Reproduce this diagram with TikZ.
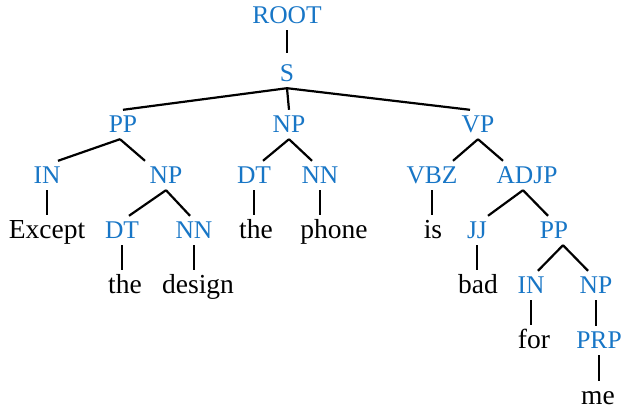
\documentclass[tikz,border=0pt]{standalone}
\usepackage{fontspec}
\setmainfont{Liberation Serif}
\newfontfamily\treefont{Liberation Serif}
\definecolor{tagblue}{RGB}{24,118,198}
\begin{document}
\begin{tikzpicture}[x=1pt,y=-1pt,
  tag/.style={font=\treefont\fontsize{25.5}{28}\selectfont, text=tagblue, anchor=base,
    text height=17pt, text depth=0pt, inner xsep=1pt, inner ysep=6pt},
  word/.style={font=\treefont\fontsize{27.5}{30}\selectfont, text=black, anchor=base,
    text height=19pt, text depth=6pt, inner xsep=1pt, inner ysep=5pt},
  branch/.style={line width=2.2pt, black}]
\useasboundingbox (0,0) rectangle (625,411);

% phrase and part-of-speech tags
\node[tag] (root) at (287,24)  {ROOT};
\node[tag] (s)    at (287,82)  {S};
\node[tag] (pp1)  at (123,133) {PP};
\node[tag] (np1)  at (289,133) {NP};
\node[tag] (vp)   at (478,133) {VP};
\node[tag] (in1)  at (47,184)  {IN};
\node[tag] (np2)  at (166,184) {NP};
\node[tag] (dt1)  at (254,184) {DT};
\node[tag] (nn1)  at (320,184) {NN};
\node[tag] (vbz)  at (432,184) {VBZ};
\node[tag] (adjp) at (527,184) {ADJP};
\node[tag] (dt2)  at (122,239) {DT};
\node[tag] (nn2)  at (194,239) {NN};
\node[tag] (jj)   at (477,239) {JJ};
\node[tag] (pp2)  at (554,239) {PP};
\node[tag] (in2)  at (531,294) {IN};
\node[tag] (np3)  at (596,294) {NP};
\node[tag] (prp)  at (599,349) {PRP};

% the words
\node[word] (w1) at (47,239)  {Except};
\node[word] (w2) at (256,239) {the};
\node[word] (w3) at (334,239) {phone};
\node[word] (w4) at (433,239) {is};
\node[word] (w5) at (125,294) {the};
\node[word] (w6) at (198,294) {design};
\node[word] (w7) at (478,294) {bad};
\node[word] (w8) at (534,349) {for};
\node[word] (w9) at (598,405) {me};

% branching edges
\draw[branch] (s.south) -- (pp1.north);
\draw[branch] (s.south) -- (np1.north);
\draw[branch] (s.south) -- ([xshift=-8pt]vp.north);
\draw[branch] ([xshift=-3pt]pp1.south) -- ([xshift=11pt]in1.north);
\draw[branch] ([xshift=-3pt]pp1.south) -- ([xshift=-21pt]np2.north);
\draw[branch] (np1.south) -- ([xshift=9pt]dt1.north);
\draw[branch] (np1.south) -- ([xshift=-8pt]nn1.north);
\draw[branch] (vp.south) -- ([xshift=21pt]vbz.north);
\draw[branch] (vp.south) -- ([xshift=-24pt]adjp.north);
\draw[branch] (np2.south) -- ([xshift=7pt]dt2.north);
\draw[branch] (np2.south) -- ([xshift=-4pt]nn2.north);
\draw[branch] ([xshift=-4pt]adjp.south) -- ([xshift=11pt]jj.north);
\draw[branch] ([xshift=-4pt]adjp.south) -- ([xshift=-6pt]pp2.north);
\draw[branch] ([xshift=9pt]pp2.south) -- ([xshift=7pt]in2.north);
\draw[branch] ([xshift=9pt]pp2.south) -- ([xshift=-8pt]np3.north);

% unary edges
\draw[branch, shorten >=6pt] (root.south) -- (root.south |- s.north);
\draw[branch] (in1.south) -- (in1.south |- w1.north);
\draw[branch] (dt1.south) -- (dt1.south |- w2.north);
\draw[branch] (nn1.south) -- (nn1.south |- w3.north);
\draw[branch] (vbz.south) -- (vbz.south |- w4.north);
\draw[branch] (dt2.south) -- (dt2.south |- w5.north);
\draw[branch] (nn2.south) -- (nn2.south |- w6.north);
\draw[branch] (jj.south) -- (jj.south |- w7.north);
\draw[branch] (in2.south) -- (in2.south |- w8.north);
\draw[branch] (np3.south) -- (np3.south |- prp.north);
\draw[branch] (prp.south) -- (prp.south |- w9.north);
\end{tikzpicture}
\end{document}
